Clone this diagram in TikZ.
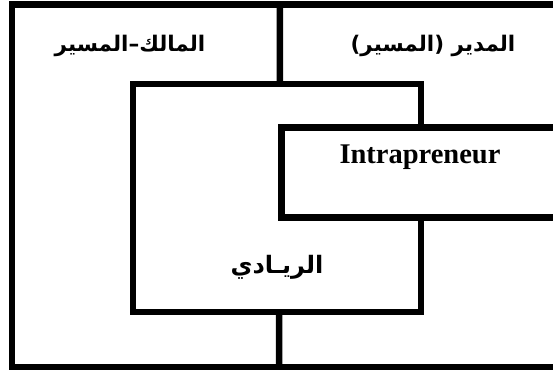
\documentclass[tikz,border=0pt]{standalone}
\usepackage{fontspec}
\setmainfont{Liberation Serif}
\newfontfamily\arabicfont[Script=Arabic]{DejaVu Sans}
\TeXXeTstate=1
\begin{document}
\begin{tikzpicture}[x=1pt,y=-1pt, line width=6.5pt,
  box/.style={draw,fill=white,line width=6.5pt,inner sep=0pt},
  lbl/.style={font=\arabicfont\bfseries\fontsize{21.5}{24}\selectfont}]
\clip (0,0) rectangle (553,372);
% outer frame, open on the right
\coordinate (tl) at (12,4.5); \coordinate (bl) at (12,367);
\coordinate (tr) at (600,4.5); \coordinate (br) at (600,367);
\draw (tr) -- (tl) -- (bl) -- (br);
\coordinate (dtop) at (280,4.5); \coordinate (dbot) at (279,367);
\draw (dtop) -- (dbot);
% entrepreneur square
\node[box,minimum width=288pt,minimum height=228pt] (ent) at (277,198) {};
% intrapreneur strip, runs off the right edge
\node[box,minimum width=330pt,minimum height=90pt,anchor=north west] (intra) at (278,124) {};
\node[font=\bfseries\fontsize{28.5}{32}\selectfont] (intxt) at (420,157) {Intrapreneur};
\node[lbl] (own) at (130,46) {\beginR المالك–المسير\endR};
\node[lbl] (mgr) at (433,46) {\beginR المدير (المسير)\endR};
\node[lbl,font=\arabicfont\bfseries\fontsize{24}{26}\selectfont] (entxt) at (277,267) {\beginR الريـادي\endR};
\end{tikzpicture}
\end{document}
